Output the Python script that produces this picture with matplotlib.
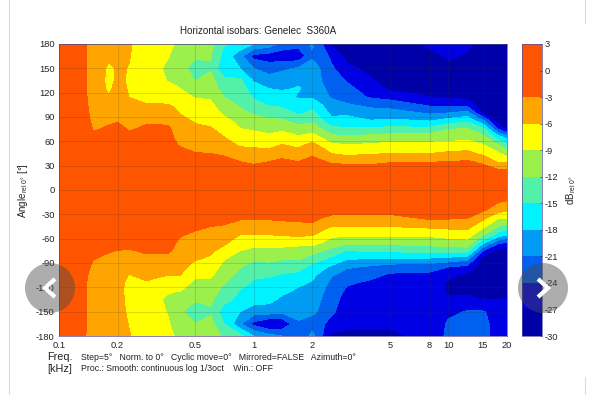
import numpy as np
import matplotlib
matplotlib.use("Agg")
import matplotlib.pyplot as plt
from matplotlib.patches import Circle

plt.rcParams['font.family'] = ['Liberation Sans', 'DejaVu Sans']
plt.rcParams['mathtext.default'] = 'regular'
plt.rcParams['axes.unicode_minus'] = False

# frequency (kHz) of each column below
freqs = [0.1, 0.135, 0.15, 0.18, 0.2, 0.23, 0.28, 0.36, 0.39, 0.42, 0.5, 0.6, 0.7, 0.85,
         1.0, 1.2, 1.4, 1.7, 2, 2.5, 3, 4, 5, 8, 10, 12.5, 15, 18, 20]
# magnitude of the angle, one value per entry in every list
angles = [0, 25, 35, 45, 55, 65, 75, 85, 95, 105, 115, 125, 135, 150, 165, 180]

# dB rel 0 deg, positive angles, one list per frequency
upper = [
    [0, 0, 0, 0, -.3, -.6, -1, -1.5, -1.8, -2, -2, -2, -2, -2, -2, -2],
    [0, 0, 0, 0, -.3, -.6, -1, -1.5, -2, -2.4, -2.6, -2.7, -2.7, -2.7, -2.7, -2.8],
    [0, 0, -.5, -1, -1.5, -2.5, -3.2, -3.8, -4, -4, -4, -4, -4, -4, -4, -3.8],
    [0, 0, -.5, -1, -1.5, -2, -2.7, -3.3, -4, -4.5, -5.9, -6.5, -6.8, -6.5, -5.5, -5],
    [0, 0, -.3, -.8, -1.2, -1.8, -2.4, -3.1, -3.7, -4.2, -4.6, -5, -5.5, -5.7, -5.5, -5.2],
    [0, 0, -.5, -1, -1.5, -2.2, -3.2, -3.8, -4.5, -5.2, -6.1, -6.3, -6.3, -6.1, -5.9, -5.8],
    [0, 0, -.5, -1, -1.5, -2, -2.6, -3.3, -4.5, -5.9, -6.5, -7, -7.3, -7.5, -7.5, -7.3],
    [0, 0, -.5, -1, -1.5, -2, -2.6, -3.4, -4.5, -5.9, -7, -8, -9.1, -9.5, -8.8, -8.2],
    [0, -.3, -.8, -1.6, -2.6, -3.1, -3.3, -4, -5.2, -6.3, -7.5, -8.5, -9.5, -10.5, -9.6, -9],
    [0, -.5, -1, -2, -3.2, -3.8, -4.3, -5, -6.2, -7.2, -8.2, -9, -10, -11.5, -10.5, -9.5],
    [0, -.8, -1.8, -2.9, -3.7, -4.5, -5.3, -6.3, -7.2, -8, -9.2, -10, -12.1, -12.6, -11.8, -10.8],
    [0, -1, -1.8, -3, -4, -5, -5.7, -6.8, -7.7, -8.4, -9.4, -10.4, -11, -12.3, -11.8, -11],
    [0, -1, -2, -3.4, -4.5, -5.9, -7, -8, -9.5, -10.7, -12, -13, -14, -17.5, -16, -14.7],
    [0, -1.6, -3, -4.5, -6.3, -7.7, -8.9, -10, -11.3, -12.4, -13, -13.7, -14.4, -18, -20, -16],
    [0, -2.4, -3.3, -4.8, -6.5, -7.8, -9.3, -11, -12.3, -14.2, -15.3, -16.6, -18.3, -21, -25, -18],
    [0, -1.9, -3, -5, -6.7, -8.3, -10, -11.3, -13.5, -15.2, -16.2, -18, -19.5, -22.5, -25.5, -19.5],
    [0, -1.5, -2.6, -3.7, -5.8, -7.5, -9.5, -11.5, -13.8, -15.5, -17, -18.3, -19.5, -21.5, -26, -22],
    [0, -1.5, -3, -5, -6.5, -8.5, -11, -13, -15.5, -17, -18.3, -17.8, -18.5, -20.7, -26, -23],
    [0, -1.5, -2.3, -3.4, -5, -7.7, -10.2, -12.5, -14.3, -16, -18.5, -19.2, -19.6, -19.5, -21.5, -20.5],
    [0, -2, -3.3, -6, -8.3, -11, -14, -17, -18.7, -20, -21.3, -22, -22.7, -23.5, -24.5, -27.5],
    [0, -2, -3.5, -6.8, -8.7, -11.5, -14.5, -17, -18.5, -20.7, -22.3, -23.2, -24.2, -26.2, -27.8, -28.5],
    [0, -2, -3.6, -6.3, -8.5, -11, -14.2, -17.8, -19.7, -21.8, -24.5, -25.6, -26.6, -28, -29, -29.5],
    [0, -1.8, -3.2, -6, -8, -10.5, -14, -17.5, -19.5, -22.5, -25, -27.5, -29, -30, -30, -30],
    [0, -1.8, -3.1, -6, -8, -10.5, -14, -18, -21.5, -24.5, -27, -28.5, -29, -29, -28.5, -26],
    [0, -1.6, -3, -5.5, -7.8, -10.3, -12, -16.5, -21, -24.5, -27.5, -29, -29.5, -28, -26.5, -25.5],
    [0, -1.5, -2.7, -5.2, -7.5, -9.8, -11.8, -15.5, -20, -25, -28, -29, -29.5, -29, -27.5, -26],
    [0, -2, -3.5, -6.7, -8.7, -11, -14, -20, -27.5, -29, -30, -30, -30, -30, -30, -29],
    [0, -2.9, -6.5, -8.6, -11.7, -16.5, -24, -29, -30, -30, -30, -30, -30, -30, -30, -30],
    [0, -3, -6.4, -10.5, -13.8, -19.2, -27.5, -30, -30, -30, -30, -30, -30, -30, -30, -30],
]

# same, negative angles
lower = [
    [0, 0, 0, 0, -.3, -.6, -1, -1.5, -1.8, -2, -2, -2, -2, -2, -2, -2],
    [0, 0, 0, 0, -.3, -.6, -1, -1.5, -2, -2.4, -2.6, -2.7, -2.7, -2.7, -2.7, -2.8],
    [0, 0, 0, -.3, -.7, -1.2, -1.8, -2.9, -3.6, -4, -4.2, -4.3, -4.3, -4.3, -4.2, -4],
    [0, 0, 0, -.3, -.7, -1.2, -2.8, -3.6, -4.2, -4.6, -4.8, -4.8, -4.8, -4.8, -4.8, -4.6],
    [0, 0, 0, -.3, -.7, -1.5, -3.1, -3.7, -4.4, -5, -5.3, -5.4, -5.4, -5.4, -5.2, -5],
    [0, 0, 0, -.3, -1.2, -2, -3.2, -4, -5.2, -6.1, -6.6, -6.6, -6.5, -6.3, -6.1, -5.9],
    [0, 0, 0, -.3, -1.2, -2, -2.7, -3.5, -4.4, -5.3, -6.3, -7, -7.5, -7.6, -7.5, -7.3],
    [0, 0, 0, -.3, -1.2, -2, -2.7, -3.5, -4.8, -6, -7.5, -8.7, -9.5, -9.1, -8.6, -8.2],
    [0, -.3, -.7, -1.2, -2, -2.8, -3.2, -3.8, -5, -6, -7.7, -8.9, -10, -10.5, -9.7, -9],
    [0, -.5, -1, -2, -2.8, -3.5, -4, -4.6, -5.2, -6, -7.8, -9, -10.5, -11.8, -10.8, -9.7],
    [0, -.8, -1.6, -2.5, -3.4, -4.4, -5, -5.8, -7, -8.5, -9.7, -10.7, -11.8, -13, -12, -10.9],
    [0, -1, -1.8, -3, -3.9, -5, -5.5, -6.4, -7.7, -8.5, -9.7, -10.7, -11.5, -12.4, -11, -10],
    [0, -1.2, -2.2, -3.2, -4.3, -5.4, -7, -8.7, -9.8, -10.8, -11.8, -12.9, -13.8, -16.5, -14.8, -12.5],
    [0, -1.5, -2.7, -4.2, -6, -7.7, -9, -10.8, -11.8, -13, -14, -15.2, -16, -18, -20.5, -14],
    [0, -1.8, -2.7, -4.5, -6, -8, -9.8, -11.5, -13.4, -14.6, -15.4, -16, -16.8, -19.5, -25, -18],
    [0, -1.6, -2.7, -4.5, -6, -8, -9.8, -11.3, -13.1, -14.7, -15.8, -16.5, -17.2, -19.5, -27.2, -20],
    [0, -1.5, -2.6, -4, -5.7, -7.8, -10, -11.8, -13.5, -15.3, -16.3, -17.4, -18.6, -20.2, -26.5, -21],
    [0, -1.3, -2.4, -3.8, -5.5, -8, -10.5, -11.8, -14, -15.8, -17.5, -18.6, -18.7, -19.8, -21.5, -24],
    [0, -1.5, -2.5, -3.5, -5.7, -7.8, -10.8, -13.5, -16, -17.4, -18.3, -19, -19.5, -20.3, -22.5, -20],
    [0, -2, -3.7, -6, -8.3, -10.3, -13, -15.7, -18.5, -20.7, -21.7, -22.4, -23, -23.4, -24.9, -27.7],
    [0, -2, -4, -6, -8.5, -11.2, -15.2, -17.8, -20.6, -22.5, -23.7, -24.5, -25, -25.7, -26.5, -27.5],
    [0, -2, -4, -6, -8.5, -11.2, -14.6, -18.2, -21.5, -23.2, -24.6, -25.4, -25.8, -26, -26.5, -27.5],
    [0, -2, -4, -6, -8.5, -11.2, -14.6, -18.4, -22.5, -24.5, -25.3, -26, -26.5, -26.3, -26.5, -27.5],
    [0, -1.6, -2.6, -5.4, -8.4, -10.8, -13.9, -18.5, -22.9, -24.7, -25.3, -25.8, -26.1, -26.5, -26.5, -26.3],
    [0, -1.5, -2.8, -5.2, -7.8, -10.5, -13.7, -19.2, -24, -26.3, -27.5, -27.4, -26.5, -24.7, -23.5, -23.2],
    [0, -1.6, -3, -5, -7.5, -10.2, -13.5, -20.3, -25, -27.8, -28.5, -27.8, -26.2, -23.8, -22.8, -22.8],
    [0, -2.6, -5.3, -8.3, -11.4, -17, -24, -28.5, -29, -29, -28.7, -28, -27, -23.8, -23, -22.8],
    [0, -4.8, -9, -12, -16.2, -23.3, -28.5, -29.5, -29.5, -29.3, -29, -28, -27, -25, -25.5, -25.5],
    [0, -5.7, -9, -13.5, -17.6, -24.3, -28.5, -29.5, -29.5, -29.3, -29, -28, -26.8, -25.5, -25.5, -25.5],
]

levels = [-30, -27, -24, -21, -18, -15, -12, -9, -6, -3, 0, 3]
band_colors = ['#0000A8', '#0000E4', '#0060F0', '#009CF4', '#00F2FF', '#52F0A8',
               '#9CF04C', '#FFFF00', '#FFA500', '#FF5500', '#FF5500']
x_ticks = [0.1, 0.2, 0.5, 1, 2, 5, 8, 10, 15, 20]
x_ticklabels = ['0.1', '0.2', '0.5', '1', '2', '5', '8', '10', '15', '20']
y_ticks = list(range(-180, 181, 30))


W, H = 593, 395

def px_axes(fig, left, top, right, bottom):
    # axes from pixel edges, y counted from the top of the image
    return fig.add_axes([left / W, 1 - bottom / H, (right - left) / W, (bottom - top) / H])


def plot_isobars():
    fig = plt.figure(figsize=(W / 100, H / 100), dpi=100, facecolor='white')
    ax = px_axes(fig, 59, 44, 507, 336)

    # full angle range, -180 at the bottom of the table
    a = np.array(angles)
    all_angles = np.concatenate([-a[:0:-1], a])
    z_up = np.array(upper).T
    z_low = np.array(lower).T
    z = np.vstack([z_low[:0:-1], z_up])
    z = np.clip(z, -29.99, 2.99)

    cs = ax.contourf(freqs, all_angles, z, levels=levels, colors=band_colors)
    ax.set_xscale('log')
    ax.set_xlim(0.1, 20)
    ax.set_ylim(-180, 180)
    ax.set_xticks(x_ticks)
    ax.set_xticklabels(x_ticklabels)
    ax.minorticks_off()
    ax.set_yticks(y_ticks)
    ax.tick_params(direction='in', length=0, labelsize=6.7, pad=3, colors='#222222')
    ax.tick_params(axis='x', pad=3.5)
    ax.set_axisbelow(False)
    ax.grid(True, color='#303030', linewidth=0.4, alpha=0.3)
    for s in ax.spines.values():
        s.set_linewidth(0.5)
        s.set_color('#5050a0')

    cax = px_axes(fig, 522, 44, 542, 336)
    cb = fig.colorbar(cs, cax=cax)
    cb.set_ticks(levels)
    cb.ax.tick_params(direction='in', length=1.5, width=0.4, labelsize=6.7, pad=2, colors='#222222')
    cb.outline.set_linewidth(0.5)
    cb.outline.set_edgecolor('#5050a0')

    # text placed by pixel
    def put(x, y, s, **kw):
        fig.text(x / W, 1 - y / H, s, color='#222222', va='center', **kw)

    put(258, 31, 'Horizontal isobars: Genelec  S360A', ha='center', fontsize=7.1)
    put(23, 190, 'Angle$_{rel\\ 0°}$ [°]', ha='center', rotation=90, fontsize=7)
    put(571, 190, 'dB$_{rel\\ 0°}$', ha='center', rotation=90, fontsize=7)
    put(47.5, 357, 'Freq.', ha='left', fontsize=7.8)
    put(47.5, 369, '[kHz]', ha='left', fontsize=7.8)
    put(81, 358, 'Step=5°   Norm. to 0°   Cyclic move=0°   Mirrored=FALSE   Azimuth=0°',
        ha='left', fontsize=6.3)
    put(81, 368.5, 'Proc.: Smooth: continuous log 1/3oct    Win.: OFF', ha='left', fontsize=6.3)

    # page furniture: border lines and the carousel buttons over the picture
    over = fig.add_axes([0, 0, 1, 1], facecolor='none')
    over.set_xlim(0, W)
    over.set_ylim(H, 0)
    over.axis('off')
    over.plot([8.5, 8.5], [0, H], color='#dcdcdc', lw=0.8)
    over.plot([584.5, 584.5], [0, 23], color='#dcdcdc', lw=0.8)
    over.plot([584.5, 584.5], [377, H], color='#dcdcdc', lw=0.8)
    for cx, tip in ((50, -1), (543, 1)):
        over.add_patch(Circle((cx, 288), 25, facecolor='#4a4a4a', edgecolor='none', alpha=0.45))
        over.plot([cx - tip * 5, cx + tip * 5, cx - tip * 5], [279, 288, 297],
                  color='white', lw=3, solid_capstyle='butt', solid_joinstyle='miter')

    fig.savefig('out.png', dpi=100)


plot_isobars()
